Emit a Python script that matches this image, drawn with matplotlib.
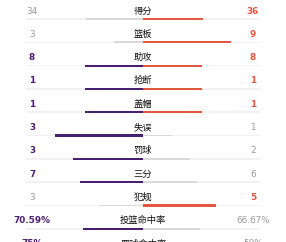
import matplotlib
matplotlib.use("Agg")
import matplotlib.pyplot as plt

# ---------------------------------------------------------------------------
# Data: team stats comparison (left team vs right team)
# ---------------------------------------------------------------------------
labels = ["得分", "篮板", "助攻", "抢断", "盖帽", "失误", "罚球", "三分", "犯规",
          "投篮命中率", "罚球命中率"]
left_vals = [34, 3, 8, 1, 1, 3, 3, 7, 3, 70.59, 75]
right_vals = [36, 9, 8, 1, 1, 1, 2, 6, 5, 66.67, 50]
left_text = ["34", "3", "8", "1", "1", "3", "3", "7", "3", "70.59%", "75%"]
right_text = ["36", "9", "8", "1", "1", "1", "2", "6", "5", "66.67%", "50%"]

# ---------------------------------------------------------------------------
# Style
# ---------------------------------------------------------------------------
PURPLE = "#4b1f6f"
RED = "#e2573f"
LOSE_BAR = "#d9d9d9"
TRACK = "#f1f1f3"
GREY_TXT = "#9a9a9a"

W, H = 286, 242
CENTER = 143
HALF = 117          # track length on each side
ROW0, STEP = 11, 23.3
BAR_OFF = 8

fig = plt.figure(figsize=(W / 100, H / 100), dpi=100)
ax = fig.add_axes([0, 0, 1, 1])
ax.set_xlim(0, W)
ax.set_ylim(H, 0)
ax.axis("off")

for i, lab in enumerate(labels):
    y = ROW0 + STEP * i
    yb = y + BAR_OFF
    lv, rv = left_vals[i], right_vals[i]
    tot = lv + rv
    lw = HALF * lv / tot if tot else 0
    rw = HALF * rv / tot if tot else 0
    lwin = lv >= rv
    rwin = rv >= lv

    # background tracks
    ax.barh(yb, HALF, left=CENTER - HALF, height=1.6, color=TRACK, lw=0)
    ax.barh(yb, HALF, left=CENTER, height=1.6, color=TRACK, lw=0)
    # value bars
    ax.barh(yb, -lw, left=CENTER, height=2.2 if lwin else 1.8,
            color=PURPLE if lwin else LOSE_BAR, lw=0)
    ax.barh(yb, rw, left=CENTER, height=2.2 if rwin else 1.8,
            color=RED if rwin else LOSE_BAR, lw=0)

    ax.text(CENTER, y, lab, ha="center", va="center", fontsize=6.7,
            family=["Noto Sans CJK SC"], fontweight="medium", color="#111111")
    ax.text(32, y, left_text[i], ha="center", va="center", fontsize=6.4,
            family=["DejaVu Sans"], fontweight="bold" if lwin else "normal",
            color=PURPLE if lwin else GREY_TXT)
    ax.text(253, y, right_text[i], ha="center", va="center", fontsize=6.4,
            family=["DejaVu Sans"], fontweight="bold" if rwin else "normal",
            color=RED if rwin else GREY_TXT)

fig.savefig("out.png", dpi=100)
